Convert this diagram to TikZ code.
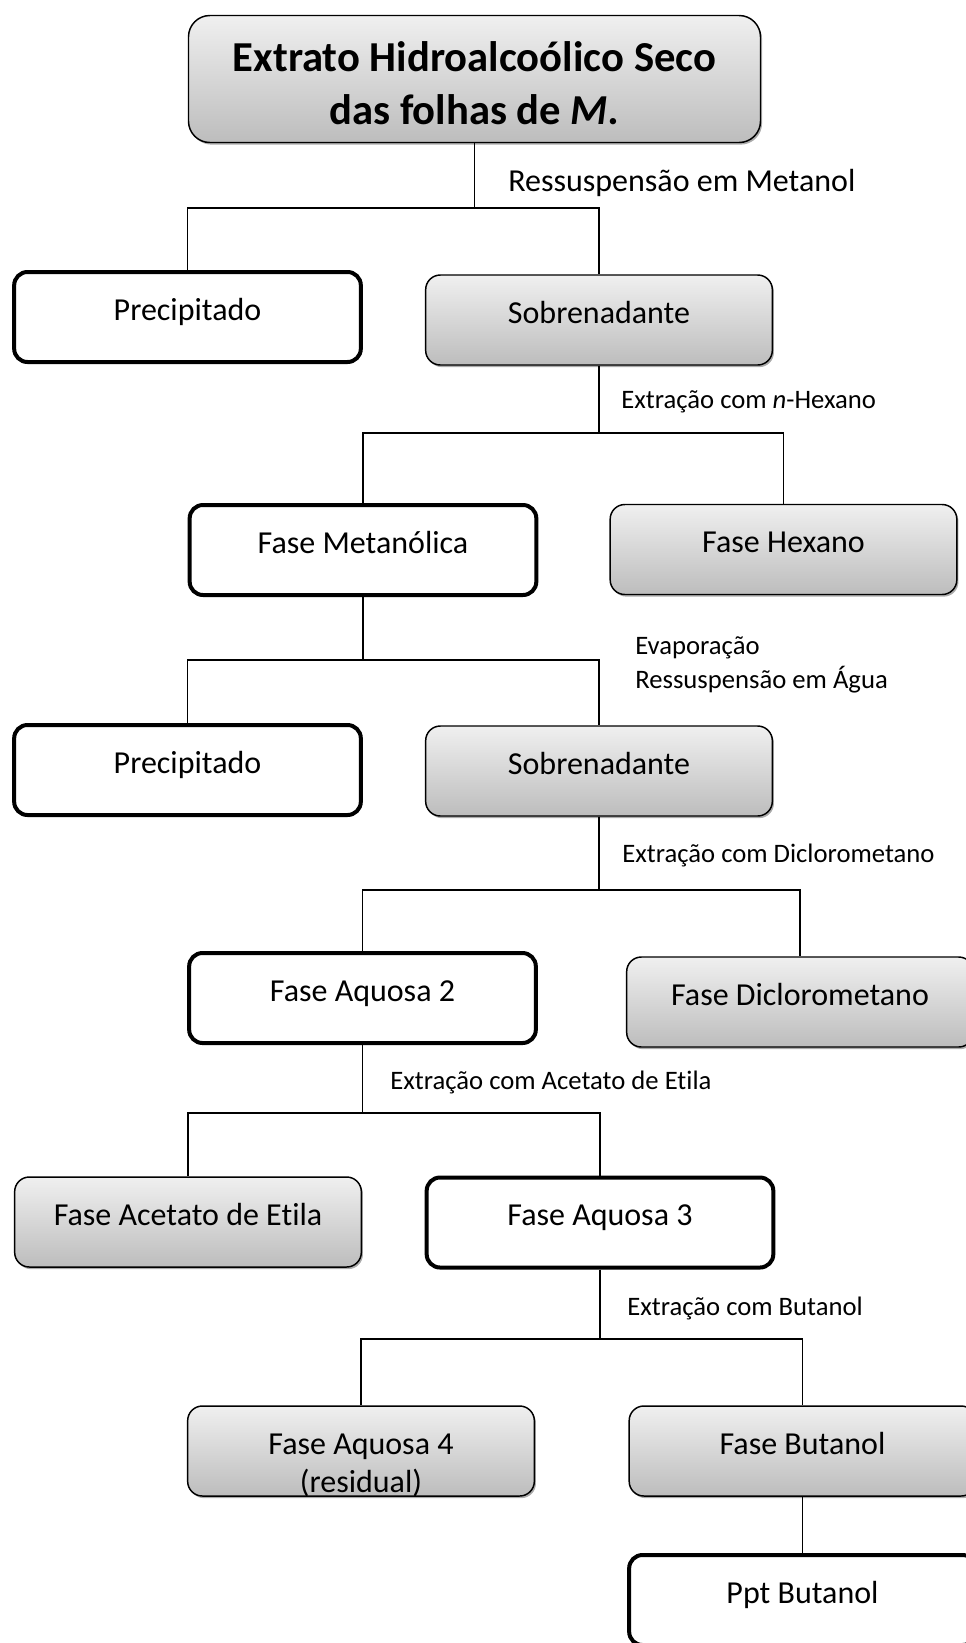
\documentclass[tikz,border=0pt]{standalone}
\usepackage{fontspec}
\setmainfont{Carlito}[Ligatures=NoCommon]
\usepackage{tikz}
\usetikzlibrary{shadows}
\usetikzlibrary{positioning}
\usetikzlibrary{calc}

\tikzset{
  box/.style={rounded corners=11pt, minimum width=260pt, minimum height=67.5pt,
    text width=250pt, align=flush center, inner sep=0pt,
    font=\fontsize{24}{28.5}\selectfont, text height=18pt, text depth=13.5pt},
  graybox/.style={box, draw, line width=1.1pt, top color=black!6, bottom color=black!26,
    drop shadow={shadow xshift=1.2pt, shadow yshift=-1.6pt, fill=black!55, opacity=.6}},
  whitebox/.style={box, draw, line width=3pt, fill=white, rounded corners=10pt},
  lbl/.style={anchor=base west, inner sep=0pt, align=left,
    font=\fontsize{20}{25}\selectfont}
}

\begin{document}
\begin{tikzpicture}[x=0.75pt, y=-0.75pt]
 \useasboundingbox (0,0) rectangle (966,1643);

 % top
 \node[graybox, minimum width=429pt, minimum height=95.25pt, text width=420pt, rounded corners=16pt,
       font=\bfseries\fontsize{32}{40}\selectfont, text height=20pt, text depth=31.25pt]
   (top) at (474.5,79) {Extrato Hidroalcoólico Seco\\das folhas de \textit{M.}};

 % shaded boxes
 \foreach \name/\x/\y/\txt in { sobr1/599/320/Sobrenadante, hexa/783.5/549.5/Fase Hexano,
        sobr2/599/771/Sobrenadante, dicl/800/1002/Fase Diclorometano,
        acet/188/1222/Fase Acetato de Etila, aq4/361/1451/{Fase Aquosa 4\\(residual)},
        buta/802.5/1451/Fase Butanol } {
         \node[graybox] (\name) at (\x,\y) {\txt};
 }

 % open boxes
 \foreach \name/\x/\y/\txt in { prec1/187.5/317/Precipitado, metan/363/550/Fase Metanólica,
        prec2/187.5/770/Precipitado, aq2/362.5/998/Fase Aquosa 2,
        aq3/600/1222.5/Fase Aquosa 3, ppt/802.5/1600/Ppt Butanol } {
         \node[whitebox] (\name) at (\x,\y) {\txt};
 }

 % lines
 \foreach \src/\dst/\y in { top/prec1/208, top/sobr1/208, sobr1/metan/433, sobr1/hexa/433,
        metan/prec2/660, metan/sobr2/660, sobr2/aq2/890, sobr2/dicl/890,
        aq2/acet/1113, aq2/aq3/1113, aq3/aq4/1339, aq3/buta/1339, buta/ppt/1525 }
 	\draw[line width=1.4pt] (\src.south) -- (\src.south |- 0,\y) -| (\dst.north);

 % steps
 \node[lbl, font=\fontsize{24}{28}\selectfont] (step1) at (508,191.7) {Ressuspensão em Metanol};
 \node[lbl] (step2) at (621,408) {Extração com \textit{n}-Hexano};
 \node[lbl] (step3) at (635,688) {Evaporação\\Ressuspensão em Água};
 \node[lbl] (step4) at (622,862) {Extração com Diclorometano};
 \node[lbl] (step5) at (390,1089) {Extração com Acetato de Etila};
 \node[lbl] (step6) at (627,1315) {Extração com Butanol};

\end{tikzpicture}
\end{document}
